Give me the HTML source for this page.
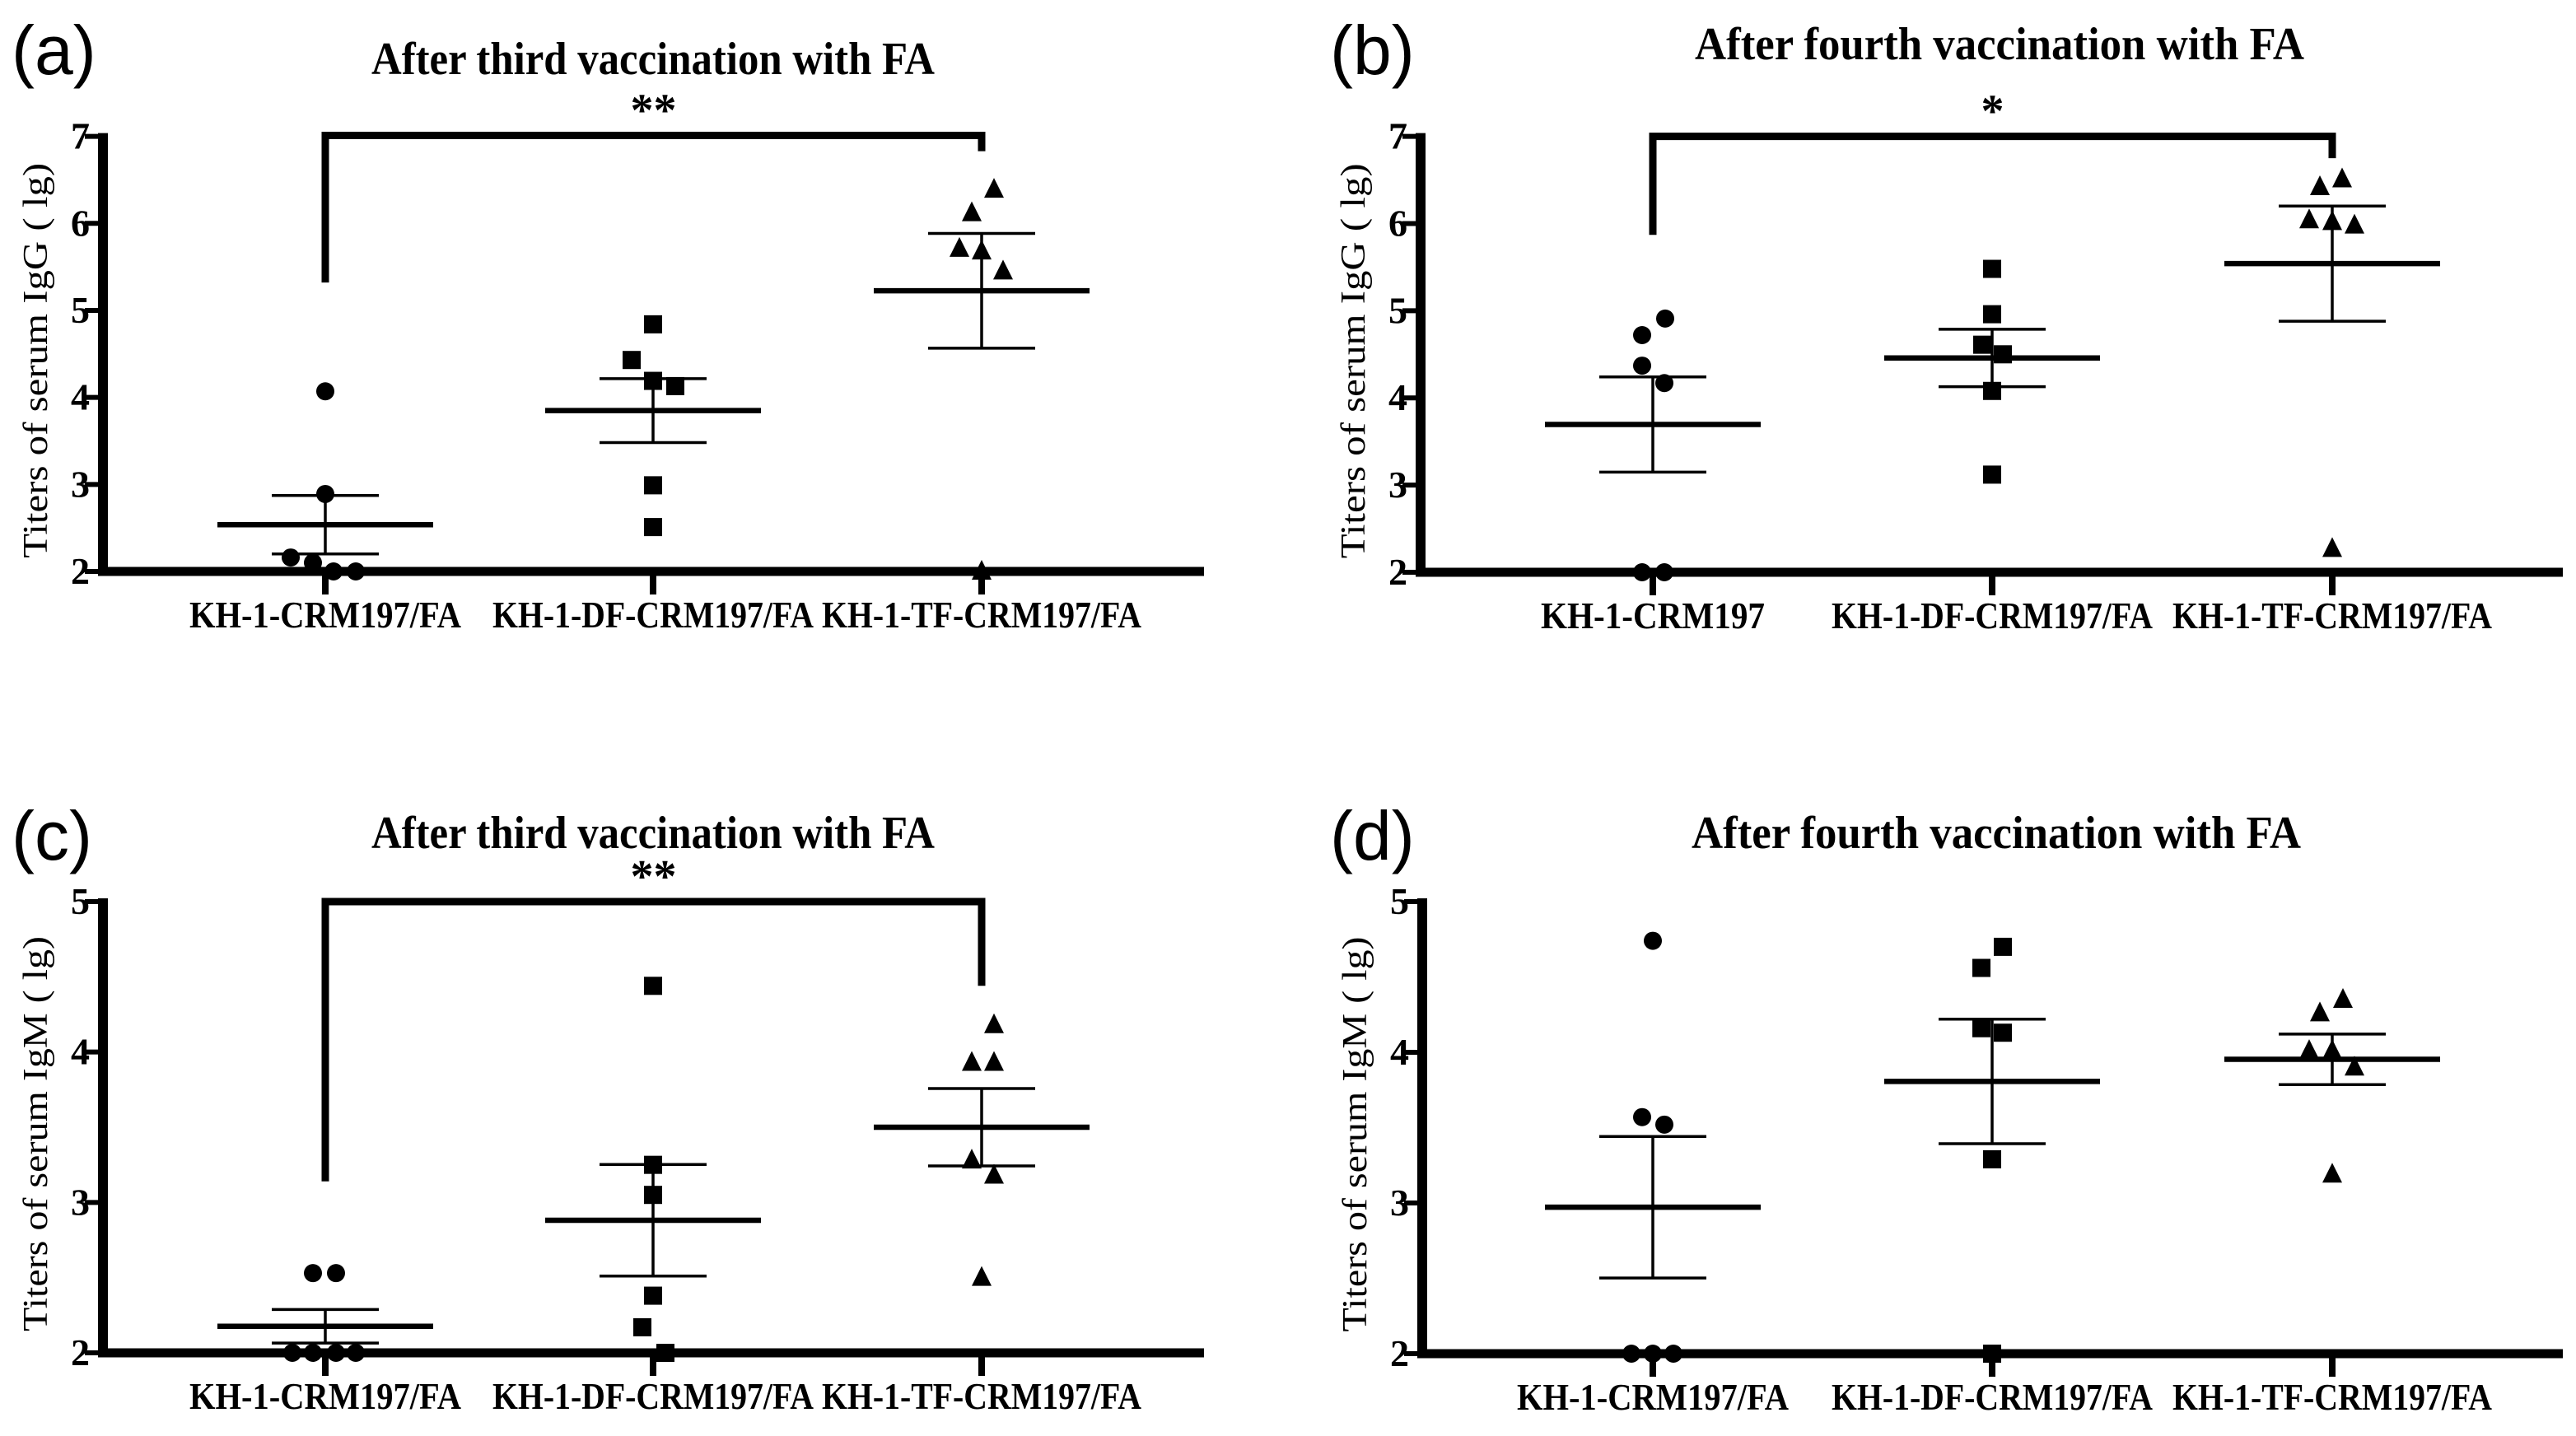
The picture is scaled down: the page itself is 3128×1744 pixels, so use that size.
<!DOCTYPE html>
<html><head><meta charset="utf-8"><style>
html,body{margin:0;padding:0;background:#fff;}
svg{display:block;}
</style></head><body>
<svg id="fig" width="3128" height="1744" viewBox="0 0 3128 1744" xmlns="http://www.w3.org/2000/svg"></svg>
<script>
// ---- data ----
const categoriesA = ["KH-1-CRM197/FA","KH-1-DF-CRM197/FA","KH-1-TF-CRM197/FA"];
const categoriesB = ["KH-1-CRM197","KH-1-DF-CRM197/FA","KH-1-TF-CRM197/FA"];
const ticksIgG = [2,3,4,5,6,7];
const ticksIgM = [2,3,4,5];
const valuesA = [[4.07,2.89,2.16,2.10,2.0,2.0],[4.84,4.43,4.19,4.13,2.99,2.51],[6.39,6.12,5.71,5.68,5.45,2.0]];
const valuesB = [[4.91,4.72,4.37,4.17,2.0,2.0],[5.48,4.96,4.61,4.50,4.08,3.12],[6.51,6.42,6.04,6.02,5.98,2.27]];
const valuesC = [[2.53,2.53,2.0,2.0,2.0,2.0],[4.44,3.25,3.05,2.38,2.17,2.0],[4.18,3.93,3.93,3.28,3.18,2.5]];
const valuesD = [[4.74,3.57,3.52,2.0,2.0,2.0],[4.70,4.56,4.16,4.13,3.29,2.0],[4.35,4.26,4.01,4.01,3.90,3.19]];
const bracketA = [5.32,7.01,6.83];
const bracketB = [5.87,7.0,6.75];
const bracketC = [3.14,5.0,4.44];
const sigA = "**", sigB = "*", sigC = "**";
// jitter (px) to separate overlapping points
const jitterA = [[0,0,-42,-15,10,37],[0,-26,0,27,0,0],[15,-12,-27,0,26,0]];
const jitterB = [[15,-13,-13,14,-13,14],[0,0,-12,13,0,0],[12,-15,-28,0,27,0]];
const jitterC = [[-15,13,-40,-15,13,37],[0,0,0,0,-13,15],[15,-12,15,-12,15,0]];
const jitterD = [[0,-13,14,-26,0,25],[13,-13,-13,13,0,0],[13,-15,-28,0,27,0]];

const NS="http://www.w3.org/2000/svg";
const svg=document.getElementById('fig');
function mk(tag,attrs,parent,txt){const e=document.createElementNS(NS,tag);for(const k in attrs)e.setAttribute(k,attrs[k]);if(txt!==undefined)e.textContent=txt;(parent||svg).appendChild(e);return e;}
const SERIF='"Liberation Serif", serif';
const labelLen={"KH-1-CRM197/FA":330,"KH-1-DF-CRM197/FA":390,"KH-1-TF-CRM197/FA":388,"KH-1-CRM197":272};

function panel(o){
  const g=mk('g',{});
  
  
  const y=v=>o.y0-(v-o.vmin)*(o.y0-o.y1)/(o.vmax-o.vmin);
  const x=i=>o.cats[i];
  let t=mk('text',{x:o.lx,y:o.ly,'font-family':'"Liberation Sans", sans-serif','font-size':84},g,'('+o.id+')');
   
  t=mk('text',{x:o.tx,y:o.ty,'text-anchor':'middle','font-family':SERIF,'font-weight':'bold','font-size':56,textLength:o.tl,lengthAdjust:'spacingAndGlyphs'},g,o.title);
   
  t=mk('text',{x:0,y:0,transform:`translate(${o.ax-68},${(o.y0+o.y1)/2+8}) rotate(-90)`,'text-anchor':'middle','font-family':SERIF,'font-size':42,textLength:480,lengthAdjust:'spacingAndGlyphs'},g,o.ylabel);
   
  let l=mk('line',{x1:o.ax,y1:y(o.vmax)-4,x2:o.ax,y2:o.y0+5,stroke:'#000','stroke-width':12},g);
   
  l=mk('line',{x1:o.ax-6,y1:o.y0,x2:o.xend,y2:o.y0,stroke:'#000','stroke-width':11},g);
   
  o.ticks.forEach(v=>{
    const tk=mk('line',{x1:o.ax-22,y1:y(v),x2:o.ax,y2:y(v),stroke:'#000','stroke-width':6},g);
     
    const tl=mk('text',{x:o.ax-16,y:y(v)+15,'text-anchor':'end','font-family':SERIF,'font-weight':'bold','font-size':46},g,String(v));
     
  });
  o.labels.forEach((c,i)=>{
    const tk=mk('line',{x1:x(i),y1:o.y0,x2:x(i),y2:o.y0+28,stroke:'#000','stroke-width':8},g);
     
    const tl=mk('text',{x:x(i),y:o.y0+68,'text-anchor':'middle','font-family':SERIF,'font-weight':'bold','font-size':46,textLength:labelLen[c],lengthAdjust:'spacingAndGlyphs'},g,c);
     
  });
  o.values.forEach((arr,i)=>{
    const n=arr.length, mean=arr.reduce((a,b)=>a+b,0)/n;
    const sd=Math.sqrt(arr.reduce((a,b)=>a+(b-mean)*(b-mean),0)/(n-1)), sem=sd/Math.sqrt(n);
    arr.forEach((v,j)=>{
      const cx=x(i)+o.jit[i][j], cy=y(v);
      let m;
      if(i===0) m=mk('circle',{cx:cx,cy:cy,r:11,fill:'#000'},g);
      else if(i===1) m=mk('rect',{x:cx-11,y:cy-11,width:22,height:22,fill:'#000'},g);
      else m=mk('polygon',{points:`${cx},${cy-14} ${cx-12},${cy+10} ${cx+12},${cy+10}`,fill:'#000'},g);
      
      
    });
    let e=mk('line',{x1:x(i),y1:y(mean+sem),x2:x(i),y2:y(mean-sem),stroke:'#000','stroke-width':3.5},g);
     
    [mean+sem,mean-sem].forEach(v=>{
      const c=mk('line',{x1:x(i)-65,y1:y(v),x2:x(i)+65,y2:y(v),stroke:'#000','stroke-width':3.5},g);
       
    });
    e=mk('line',{x1:x(i)-131,y1:y(mean),x2:x(i)+131,y2:y(mean),stroke:'#000','stroke-width':6.5},g);
     
  });
  if(o.br){
    const p=mk('polyline',{points:`${x(0)},${y(o.br[0])} ${x(0)},${y(o.br[1])} ${x(2)},${y(o.br[1])} ${x(2)},${y(o.br[2])}`,fill:'none',stroke:'#000','stroke-width':9},g);
     
    const s=mk('text',{x:(x(0)+x(2))/2,y:y(o.br[1])-12,'text-anchor':'middle','font-family':SERIF,'font-weight':'bold','font-size':56},g,o.sig);
     
  }
}
const igG='Titers of serum IgG ( lg)', igM='Titers of serum IgM ( lg)';
panel({id:'a',lx:14,ly:90,tx:793,ty:90,tl:684,title:'After third vaccination with FA',ylabel:igG,ax:125,xend:1462,y0:694,y1:165.6,vmin:2,vmax:7,ticks:ticksIgG,cats:[395,793,1192],labels:categoriesA,values:valuesA,jit:jitterA,br:bracketA,sig:sigA});
panel({id:'b',lx:1615,ly:90,tx:2428,ty:72,tl:740,title:'After fourth vaccination with FA',ylabel:igG,ax:1725,xend:3112,y0:695,y1:165.6,vmin:2,vmax:7,ticks:ticksIgG,cats:[2007,2419,2832],labels:categoriesB,values:valuesB,jit:jitterB,br:bracketB,sig:sigB});
panel({id:'c',lx:14,ly:1044,tx:793,ty:1030,tl:684,title:'After third vaccination with FA',ylabel:igM,ax:125,xend:1462,y0:1643,y1:1095,vmin:2,vmax:5,ticks:ticksIgM,cats:[395,793,1192],labels:categoriesA,values:valuesC,jit:jitterC,br:bracketC,sig:sigC});
panel({id:'d',lx:1615,ly:1044,tx:2424,ty:1030,tl:740,title:'After fourth vaccination with FA',ylabel:igM,ax:1727,xend:3112,y0:1644,y1:1095,vmin:2,vmax:5,ticks:ticksIgM,cats:[2007,2419,2832],labels:categoriesA,values:valuesD,jit:jitterD});
</script>
</body></html>
